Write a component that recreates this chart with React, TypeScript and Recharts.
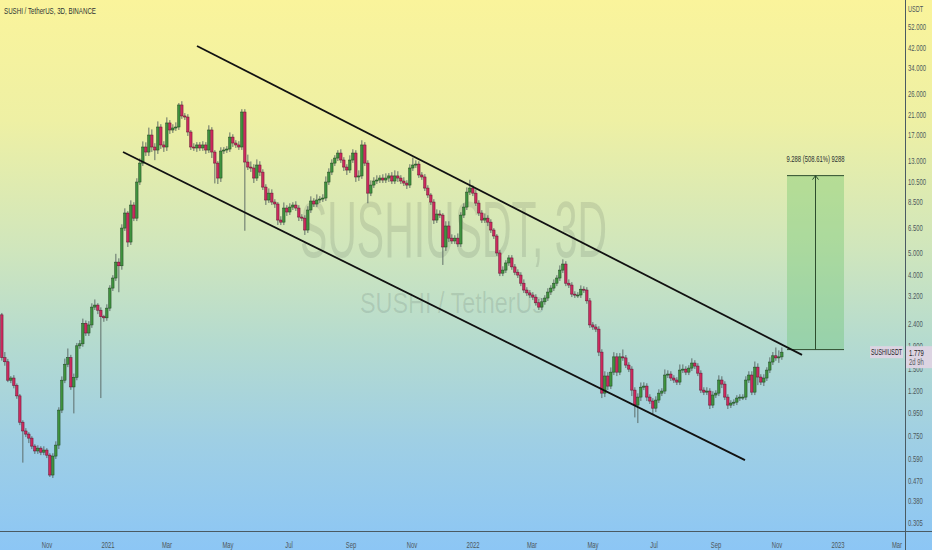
import React from 'react';
import {
  ComposedChart,
  Bar,
  XAxis,
  YAxis,
  ReferenceLine,
  ReferenceArea,
  ReferenceDot,
} from 'recharts';

// 3D candles, first one opens 2020-09-17 (day 2 counted from 2020-09-15)
const SERIES_START = Date.UTC(2020, 8, 15);
const FIRST_CANDLE = '2020-09-17';
const STEP_DAYS = 3;
const firstOpen = 2.62;

// closes (USDT)
const closes = [
  1.68, 1.61, 1.33, 1.36, 1.26, 1.13, 0.86, 0.785, 0.76, 0.729,
  0.671, 0.638, 0.657, 0.63, 0.644, 0.611, 0.497, 0.605, 0.678, 0.975,
  1.33, 1.57, 1.68, 1.24, 1.37, 1.9, 1.94, 2.4, 2.17, 2.36,
  2.84, 2.9, 2.75, 2.57, 2.54, 2.81, 3.46, 3.84, 4.53, 4.36,
  6.45, 7.54, 5.58, 8.19, 7.15, 10.4, 12.66, 14.96, 14.2, 16.94,
  14.96, 14.5, 18.41, 15.28, 14.96, 19.2, 17.85, 18.22, 18.41, 23.14,
  20.65, 20.42, 17.48, 14.96, 14.81, 15.28, 14.81, 15.28, 14.5, 17.85,
  14.2, 12.66, 10.84, 14.35, 14.5, 14.65, 16.58, 15.59, 15.28, 14.96,
  21.51, 12.8, 12.15, 12.03, 10.84, 12.41, 11.53, 9.87, 8.63, 9.27,
  8.45, 8.28, 7.01, 6.86, 7.94, 7.62, 8.02, 8.19, 7.94, 7.23,
  7.15, 6.32, 7.78, 8.54, 8.28, 8.63, 8.72, 8.81, 10.4, 11.53,
  12.66, 13.34, 14.05, 13.07, 12.15, 11.78, 13.07, 14.05, 10.96, 11.08,
  15.28, 12.66, 9.27, 10.08, 10.51, 10.62, 10.84, 10.62, 10.84, 11.08,
  10.51, 11.08, 10.84, 10.51, 10.29, 10.08, 12.03, 12.41, 12.53, 11.19,
  10.96, 9.77, 9.09, 8.45, 7.01, 7.46, 7.38, 5.3, 6.59, 5.81,
  5.64, 5.81, 5.47, 7.38, 8.02, 9.37, 9.77, 9.27, 8.36, 7.54,
  7.01, 7.15, 6.86, 6.32, 5.94, 4.98, 4.04, 4.17, 4.49, 4.73,
  4.31, 4.08, 3.96, 3.64, 3.39, 3.29, 3.22, 3.15, 2.97, 2.84,
  3.0, 3.12, 3.32, 3.46, 3.64, 3.84, 4.17, 4.44, 3.64, 3.57,
  3.25, 3.22, 3.22, 3.42, 3.39, 3.03, 2.36, 2.31, 2.26, 1.78,
  1.163, 1.389, 1.251, 1.446, 1.694, 1.446, 1.694, 1.676, 1.556, 1.492,
  1.2, 1.027, 1.116, 1.237, 1.251, 1.116, 1.071, 0.995, 1.082, 1.163,
  1.188, 1.403, 1.417, 1.36, 1.332, 1.304, 1.477, 1.492, 1.446, 1.508,
  1.589, 1.54, 1.431, 1.2, 1.175, 1.188, 1.027, 1.14, 1.163, 1.332,
  1.277, 1.116, 1.027, 1.049, 1.059, 1.105, 1.116, 1.116, 1.332, 1.403,
  1.175, 1.523, 1.374, 1.304, 1.36, 1.477, 1.606, 1.713, 1.676, 1.694,
  1.779,
];

// wick length above the body / below the body, in % of price
const upperWick = [
  2, 6, 3, 2, 3, 2, 2, 2, 3, 2,
  2, 2, 3, 2, 4, 2, 2, 3, 4, 3,
  4, 6, 10, 3, 4, 3, 4, 5, 3, 4,
  4, 6, 2, 3, 2, 4, 3, 3, 9, 4,
  4, 5, 2, 5, 3, 4, 5, 6, 5, 8,
  6, 4, 6, 3, 4, 6, 3, 4, 5, 2,
  4, 3, 3, 2, 4, 3, 3, 4, 3, 5,
  3, 2, 2, 4, 3, 3, 5, 3, 3, 4,
  3, 3, 8, 6, 4, 6, 4, 3, 3, 5,
  4, 3, 2, 4, 6, 3, 4, 3, 4, 3,
  3, 3, 4, 5, 3, 6, 3, 4, 6, 4,
  4, 3, 3, 4, 3, 3, 5, 4, 3, 6,
  5, 3, 3, 5, 4, 5, 3, 4, 5, 3,
  4, 6, 5, 3, 4, 3, 4, 8, 4, 3,
  3, 3, 3, 2, 3, 5, 4, 2, 5, 5,
  4, 3, 5, 3, 4, 5, 9, 3, 4, 3,
  3, 5, 3, 3, 2, 2, 3, 4, 3, 3,
  3, 3, 3, 3, 4, 3, 3, 3, 3, 4,
  4, 3, 4, 3, 4, 3, 5, 5, 3, 4,
  3, 3, 3, 4, 3, 3, 3, 3, 3, 3,
  3, 5, 4, 5, 5, 4, 4, 8, 3, 3,
  3, 3, 4, 5, 4, 3, 3, 3, 4, 4,
  3, 6, 4, 3, 3, 3, 6, 5, 3, 3,
  5, 3, 3, 3, 3, 4, 3, 4, 3, 5,
  4, 3, 3, 3, 3, 3, 3, 3, 4, 4,
  4, 6, 4, 3, 4, 3, 5, 4, 9, 7,
  5,
];

const lowerWick = [
  3, 4, 2, 3, 3, 3, 3, 28, 3, 5,
  3, 3, 3, 3, 3, 3, 2, 3, 3, 4,
  3, 3, 3, 3, 24, 3, 3, 3, 3, 3,
  3, 3, 4, 57, 4, 3, 3, 3, 3, 24,
  4, 3, 5, 3, 3, 3, 3, 3, 4, 4,
  5, 10, 4, 4, 5, 4, 4, 3, 3, 3,
  3, 3, 4, 3, 3, 4, 3, 3, 4, 3,
  6, 19, 6, 4, 3, 3, 3, 4, 3, 3,
  3, 51, 3, 4, 5, 3, 4, 3, 5, 3,
  3, 4, 5, 3, 3, 4, 3, 3, 3, 4,
  3, 5, 3, 3, 3, 3, 3, 3, 3, 3,
  3, 3, 3, 3, 4, 5, 3, 3, 5, 4,
  3, 3, 10, 3, 3, 3, 3, 3, 3, 4,
  3, 3, 4, 3, 3, 4, 3, 3, 3, 3,
  3, 3, 3, 3, 4, 3, 3, 17, 4, 4,
  3, 3, 3, 3, 3, 3, 3, 3, 3, 3,
  3, 3, 4, 3, 3, 3, 3, 3, 3, 3,
  3, 3, 3, 3, 3, 3, 3, 3, 3, 3,
  3, 3, 3, 3, 3, 3, 3, 3, 3, 3,
  3, 3, 3, 3, 3, 3, 3, 3, 3, 4,
  5, 4, 4, 3, 3, 4, 3, 3, 3, 3,
  6, 12, 17, 4, 3, 4, 3, 6, 4, 3,
  3, 3, 3, 3, 3, 3, 3, 3, 3, 3,
  3, 3, 3, 3, 3, 3, 4, 3, 3, 3,
  4, 3, 4, 3, 3, 3, 3, 3, 3, 3,
  3, 3, 8, 3, 4, 3, 3, 3, 3, 5,
  3,
];

const tickDates = [
  '2020-11-01', '2021-01-01', '2021-03-01', '2021-05-01', '2021-07-01',
  '2021-09-01', '2021-11-01', '2022-01-01', '2022-03-01', '2022-05-01',
  '2022-07-01', '2022-09-01', '2022-11-01', '2023-01-01', '2023-03-01',
];
const tickLabels = [
  'Nov', '2021', 'Mar', 'May', 'Jul', 'Sep', 'Nov', '2022', 'Mar', 'May',
  'Jul', 'Sep', 'Nov', '2023', 'Mar',
];
const priceTicks = [
  52, 42, 34, 26, 21, 17, 13, 10.5, 8.5, 6.5, 5, 4, 3.2, 2.4, 1.9, 1.5,
  1.2, 0.95, 0.75, 0.59, 0.47, 0.38, 0.305,
];

// drawn trend channel (day, price)
const upperChannel = [
  { day: 197, price: 42.7 },
  { day: 802, price: 1.73 },
];
const lowerChannel = [
  { day: 123, price: 14.2 },
  { day: 745, price: 0.58 },
];
// price range measure tool
const measure = { fromDay: 787, toDay: 844, low: 1.827, high: 11.115 };
const measureText = '9.288 (508.61%) 9288';
const lastPrice = 1.779;
const timeLeft = '2d 9h';

const dayOf = (iso: string) => Math.round((Date.parse(iso) - SERIES_START) / 86400000);
const tickDays = tickDates.map(dayOf);
const labelByDay: Record<number, string> = {};
tickDays.forEach((d, i) => (labelByDay[d] = tickLabels[i]));

const candles = closes.map((c, i) => {
  const o = i === 0 ? firstOpen : closes[i - 1];
  const h = Math.max(o, c) * (1 + upperWick[i] / 100);
  const l = Math.min(o, c) * (1 - lowerWick[i] / 100);
  return { day: dayOf(FIRST_CANDLE) + i * STEP_DAYS, o, c, h, l, range: [l, h] };
});

const FONT = "'Liberation Sans', Arial, sans-serif";
const PLOT_RIGHT = 905;
const Y_DOMAIN = [0.278, 68.8];

function NarrowText({ x, y, children, size = 9.5, fill = '#4d585c', anchor = 'middle', sx = 0.62 }: any) {
  return (
    <text
      transform={`translate(${x},${y}) scale(${sx},1)`}
      textAnchor={anchor}
      fontSize={size}
      fill={fill}
      fontFamily={FONT}
    >
      {children}
    </text>
  );
}

function Candle(props: any) {
  const { x, y, width, height, payload } = props;
  if (!payload) return null;
  const top = Math.min(y, y + height);
  const bot = Math.max(y, y + height);
  const lh = Math.log(payload.h);
  const ll = Math.log(payload.l);
  const py = (v: number) => top + ((bot - top) * (lh - Math.log(v))) / (lh - ll);
  const cx = x + width / 2;
  const yo = py(payload.o);
  const yc = py(payload.c);
  const up = payload.c >= payload.o;
  const bt = Math.min(yo, yc);
  const bh = Math.max(Math.abs(yo - yc), 1);
  return (
    <g>
      <line x1={cx} x2={cx} y1={top} y2={bot} stroke="#55625e" strokeWidth={0.9} />
      <rect
        x={cx - 1.2}
        y={bt}
        width={2.4}
        height={bh}
        fill={up ? '#3f923e' : '#cc2a5e'}
        stroke={up ? '#1d461e' : '#651230'}
        strokeWidth={0.5}
      />
    </g>
  );
}

function XTick({ x, y, payload }: any) {
  return (
    <svg x={0} y={y - 10} width={PLOT_RIGHT} height={24} overflow="hidden">
      <NarrowText x={x} y={19}>{labelByDay[payload.value]}</NarrowText>
    </svg>
  );
}

function YTick({ y, payload }: any) {
  return (
    <NarrowText x={PLOT_RIGHT + 3} y={y + 3.5} anchor="start">
      {Number(payload.value).toFixed(3)}
    </NarrowText>
  );
}

// last price tag, painted by its own axis so it sits above the price labels
function PriceTag({ y, payload }: any) {
  const cx = PLOT_RIGHT;
  const cy = y;
  return (
    <g>
      <rect x={cx - 35} y={cy - 6} width={33} height={12} fill="#dcd4e2" />
      <NarrowText x={cx - 18.5} y={cy + 3} size={9} fill="#222" sx={0.6}>SUSHIUSDT</NarrowText>
      <rect x={cx + 1} y={cy - 6} width={26} height={22} fill="#dcd4e2" />
      <NarrowText x={cx + 4} y={cy + 3.5} anchor="start" fill="#1f2222">
        {Number(payload.value).toFixed(3)}
      </NarrowText>
      <NarrowText x={cx + 4} y={cy + 13} anchor="start" fill="#5a5f62">{timeLeft}</NarrowText>
    </g>
  );
}

function ArrowHead({ cx, cy }: any) {
  return (
    <path d={`M${cx - 3},${cy + 4} L${cx},${cy} L${cx + 3},${cy + 4}`} fill="none" stroke="#2d4d2d" strokeWidth={1} />
  );
}

function MeasureLabel({ viewBox }: any) {
  if (!viewBox) return null;
  return (
    <NarrowText x={viewBox.x + viewBox.width / 2} y={viewBox.y - 14} fill="#2b3131" size={9.5}>
      {measureText}
    </NarrowText>
  );
}

export default function App() {
  const midDay = (measure.fromDay + measure.toDay) / 2;
  return (
    <div
      style={{
        position: 'absolute',
        left: 0,
        top: 0,
        width: 932,
        height: 550,
        overflow: 'hidden',
        background:
          'linear-gradient(to bottom, #faf49b 0%, #eef0a4 22%, #d0e6bc 45%, #b5dbcf 62%, #9fcfe4 80%, #8cc6f5 100%)',
      }}
    >
      {/* watermark + header */}
      <svg width={932} height={550} style={{ position: 'absolute', left: 0, top: 0 }}>
        <text x={300} y={257} fontSize={80} fill="rgba(40,50,50,0.12)" fontFamily={FONT} textLength={307} lengthAdjust="spacingAndGlyphs">
          SUSHIUSDT, 3D
        </text>
        <text x={360} y={313} fontSize={29} fill="rgba(40,50,50,0.12)" fontFamily={FONT} textLength={184} lengthAdjust="spacingAndGlyphs">
          SUSHI / TetherUs
        </text>
        <text x={4} y={14} fontSize={9.5} fill="#2e3434" fontFamily={FONT} textLength={92} lengthAdjust="spacingAndGlyphs">
          SUSHI / TetherUS, 3D, BINANCE
        </text>
        <NarrowText x={908} y={12} anchor="start" size={9}>USDT</NarrowText>
      </svg>

      <div style={{ position: 'absolute', left: 0, top: 0 }}>
        <ComposedChart width={932} height={550} data={candles} margin={{ top: 0, right: 0, bottom: 0, left: 0 }}>
          <XAxis
            type="number"
            dataKey="day"
            domain={[0, 905]}
            allowDataOverflow
            ticks={tickDays}
            interval={0}
            height={19}
            axisLine={false}
            tickLine={false}
            tick={<XTick />}
          />
          <YAxis
            orientation="right"
            type="number"
            scale="log"
            domain={Y_DOMAIN}
            allowDataOverflow
            ticks={priceTicks}
            interval={0}
            width={26}
            axisLine={false}
            tickLine={false}
            tick={<YTick />}
          />
          <ReferenceArea
            x1={measure.fromDay}
            x2={measure.toDay}
            y1={measure.low}
            y2={measure.high}
            fill="#5fbf62"
            fillOpacity={0.33}
            stroke="none"
            label={<MeasureLabel />}
          />
          <ReferenceLine
            segment={[{ x: measure.fromDay, y: measure.high }, { x: measure.toDay, y: measure.high }]}
            stroke="#2d4d2d"
            strokeWidth={1}
          />
          <ReferenceLine
            segment={[{ x: measure.fromDay, y: measure.low }, { x: measure.toDay, y: measure.low }]}
            stroke="#2d4d2d"
            strokeWidth={1}
          />
          <ReferenceLine
            segment={[{ x: midDay, y: measure.low }, { x: midDay, y: measure.high }]}
            stroke="#2d4d2d"
            strokeWidth={1}
          />
          <ReferenceDot x={midDay} y={measure.high} shape={(p: any) => <ArrowHead {...p} />} />
          <Bar dataKey="range" barSize={3} isAnimationActive={false} shape={(p: any) => <Candle {...p} />} />
          <ReferenceLine
            segment={[{ x: upperChannel[0].day, y: upperChannel[0].price }, { x: upperChannel[1].day, y: upperChannel[1].price }]}
            stroke="#111"
            strokeWidth={1.8}
          />
          <ReferenceLine
            segment={[{ x: lowerChannel[0].day, y: lowerChannel[0].price }, { x: lowerChannel[1].day, y: lowerChannel[1].price }]}
            stroke="#111"
            strokeWidth={1.8}
          />
          <YAxis
            yAxisId="tag"
            orientation="right"
            type="number"
            scale="log"
            domain={Y_DOMAIN}
            allowDataOverflow
            ticks={[lastPrice]}
            interval={0}
            width={1}
            axisLine={false}
            tickLine={false}
            tick={<PriceTag />}
          />
        </ComposedChart>
      </div>

      {/* pane separators */}
      <div style={{ position: 'absolute', left: 905, top: 0, width: 1, height: 550, background: '#4a5a62' }} />
      <div style={{ position: 'absolute', left: 0, top: 531, width: 932, height: 1, background: '#4a5a62' }} />
    </div>
  );
}
